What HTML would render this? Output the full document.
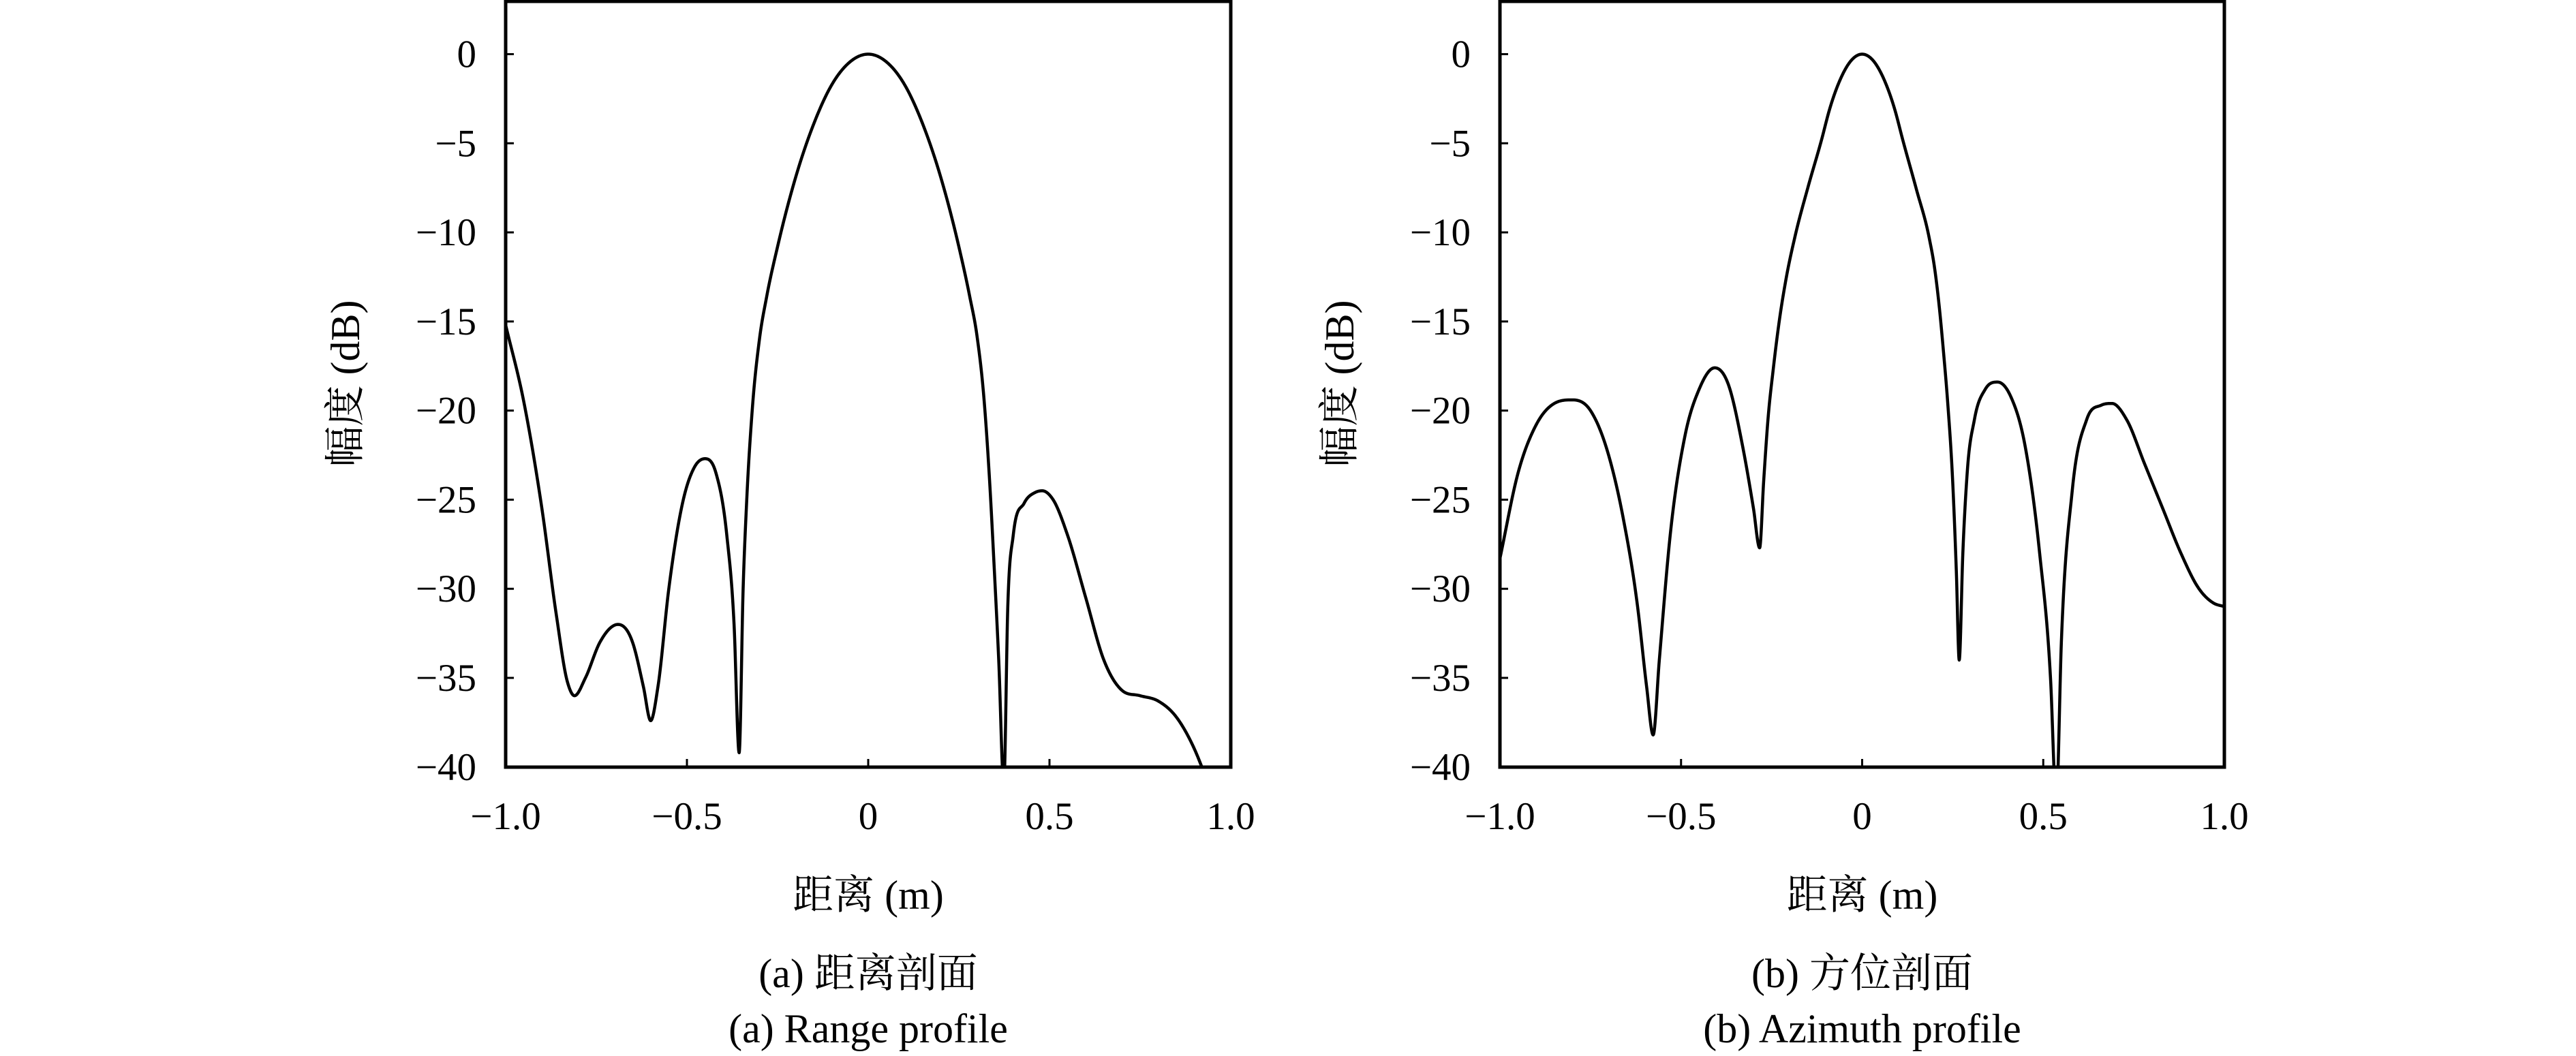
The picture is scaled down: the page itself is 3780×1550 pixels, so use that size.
<!DOCTYPE html>
<html><head><meta charset="utf-8"><style>
html,body{margin:0;padding:0;background:#fff;}
svg{display:block;}
text{font-family:"Liberation Serif","Noto Serif CJK SC","Noto Sans CJK SC",serif;fill:#000;}
</style></head><body>
<svg id="fig" width="3780" height="1550" viewBox="0 0 3780 1550" xmlns="http://www.w3.org/2000/svg">
<defs>
<clipPath id="clipA"><rect x="742" y="0" width="1064" height="1126"/></clipPath>
<clipPath id="clipB"><rect x="2201" y="0" width="1063" height="1126"/></clipPath>
</defs>
</svg>
<script>
const xTicks=[-1,-0.5,0,0.5,1];
const xTickLabels=["\u22121.0","\u22120.5","0","0.5","1.0"];
const yTicks=[0,-5,-10,-15,-20,-25,-30,-35,-40];
const yTickLabels=["0","\u22125","\u221210","\u221215","\u221220","\u221225","\u221230","\u221235","\u221240"];
const rangeX=[-1,-0.95,-0.9,-0.86,-0.83,-0.81,-0.78,-0.74,-0.69,-0.65,-0.62,-0.6,-0.58,-0.55,-0.51,-0.48,-0.45,-0.42,-0.39,-0.37,-0.356,-0.345,-0.335,-0.32,-0.3,-0.28,-0.25,-0.2,-0.15,-0.1,-0.05,0,0.05,0.1,0.15,0.2,0.25,0.28,0.3,0.32,0.335,0.348,0.36,0.374,0.385,0.4,0.43,0.46,0.48,0.51,0.55,0.6,0.65,0.7,0.75,0.8,0.85,0.9,0.93];
const rangeY=[-15.2,-19.5,-25.5,-31.5,-35.2,-36,-35,-33,-32,-33,-35.5,-37.4,-35.5,-30,-25,-23.2,-22.7,-23.5,-27,-32,-39.2,-30,-25,-20,-16,-13.6,-10.8,-6.9,-3.9,-1.7,-0.43,0,-0.43,-1.7,-3.9,-6.9,-10.8,-13.6,-15.8,-19.5,-24,-29,-34,-41,-31,-27,-25.2,-24.6,-24.5,-25,-27,-30.5,-34,-35.7,-36,-36.3,-37.2,-39,-40.5];
const aziX=[-1,-0.95,-0.9,-0.85,-0.8,-0.75,-0.7,-0.66,-0.62,-0.595,-0.577,-0.56,-0.53,-0.49,-0.45,-0.407,-0.37,-0.33,-0.3,-0.283,-0.272,-0.26,-0.245,-0.229,-0.21,-0.185,-0.15,-0.112,-0.09,-0.06,-0.03,0,0.03,0.06,0.09,0.112,0.15,0.185,0.2,0.212,0.225,0.236,0.25,0.26,0.268,0.278,0.29,0.31,0.34,0.374,0.41,0.45,0.49,0.52,0.536,0.55,0.58,0.62,0.66,0.69,0.73,0.78,0.83,0.88,0.93,0.97,1];
const aziY=[-28.3,-23.5,-20.8,-19.6,-19.4,-20,-22.5,-26,-31,-35.5,-38.2,-34,-27,-21.5,-18.8,-17.6,-18.5,-22,-25.5,-27.7,-24,-20.5,-17.6,-15,-12.6,-10.2,-7.5,-4.8,-3.1,-1.4,-0.35,0,-0.35,-1.4,-3.1,-4.8,-7.6,-10.3,-12,-14,-16.8,-19.5,-24,-29,-34,-28,-23.5,-20.5,-18.8,-18.4,-19.2,-22,-28,-35,-42,-33,-24.5,-20.5,-19.7,-19.6,-20.5,-23,-25.5,-28,-30,-30.8,-31];

const NS="http://www.w3.org/2000/svg";
const svg=document.getElementById('fig');
function mk(tag,attrs,parent){const e=document.createElementNS(NS,tag);for(const k in attrs)e.setAttribute(k,attrs[k]);(parent||svg).appendChild(e);return e;}

function smoothPoints(xs,ys){
  const n=xs.length,h=[],dl=[],m=new Array(n);
  for(let i=0;i<n-1;i++){h[i]=xs[i+1]-xs[i];dl[i]=(ys[i+1]-ys[i])/h[i];}
  m[0]=dl[0];m[n-1]=dl[n-2];
  for(let i=1;i<n-1;i++){
    if(dl[i-1]*dl[i]<=0)m[i]=0;
    else{
      let s=(dl[i-1]*h[i]+dl[i]*h[i-1])/(h[i-1]+h[i]);
      const lim=3*Math.min(Math.abs(dl[i-1]),Math.abs(dl[i]));
      if(Math.abs(s)>lim)s=Math.sign(s)*lim;
      m[i]=s;
    }
  }
  const out=[];
  for(let i=0;i<n-1;i++){
    const S=20;
    for(let k=0;k<S;k++){
      const t=k/S,t2=t*t,t3=t2*t;
      const y=(2*t3-3*t2+1)*ys[i]+(t3-2*t2+t)*h[i]*m[i]+(-2*t3+3*t2)*ys[i+1]+(t3-t2)*h[i]*m[i+1];
      out.push([xs[i]+t*h[i],y]);
    }
  }
  out.push([xs[n-1],ys[n-1]]);
  return out;
}

function panel(cfg){
  const L=cfg.left,R=cfg.right,T=0,B=1126;
  const y0=79.5,y40=1125.8;
  const sx=v=>L+(v+1)/2*(R-L);
  const sy=v=>y0+(v/-40)*(y40-y0);
  const g=mk('g',{});
  
  
  const pts=smoothPoints(cfg.xs,cfg.ys);
  const d='M'+pts.map(p=>sx(p[0]).toFixed(2)+','+sy(p[1]).toFixed(2)).join(' L');
  const path=mk('path',{d:d,fill:'none',stroke:'#000','stroke-width':4.5,'stroke-linejoin':'round','clip-path':'url(#'+cfg.clip+')'},g);
  
  
  const fr=mk('rect',{x:L,y:T+2,width:R-L,height:B-T-2,fill:'none',stroke:'#000','stroke-width':5},g);
  
  
  xTicks.forEach((v,i)=>{
    const x=sx(v);
    const t=mk('line',{x1:x,x2:x,y1:B,y2:B-12,stroke:'#000','stroke-width':3},g);
    
    
    const tl=mk('text',{x:x,y:1217,'font-size':57,'text-anchor':'middle'},g);
    tl.textContent=xTickLabels[i];
    
    
  });
  yTicks.forEach((v,i)=>{
    const y=sy(v);
    const t=mk('line',{x1:L,x2:L+12,y1:y,y2:y,stroke:'#000','stroke-width':3},g);
    
    
    const tl=mk('text',{x:L-43,y:y+19,'font-size':57,'text-anchor':'end'},g);
    tl.textContent=yTickLabels[i];
    
    
  });
  const xl=mk('text',{x:(L+R)/2,y:1334,'font-size':60,'text-anchor':'middle'},g);
  xl.textContent='距离 (m)';
  
  
  const yl=mk('text',{x:0,y:0,'font-size':60,'text-anchor':'middle',transform:'translate('+(cfg.ylx)+',563) rotate(-90)'},g);
  yl.textContent='幅度 (dB)';
  
  
  const c1=mk('text',{x:(L+R)/2,y:1449,'font-size':60,'text-anchor':'middle'},g);
  c1.textContent=cfg.cap1;
  
  
  const c2=mk('text',{x:(L+R)/2,y:1530,'font-size':60,'text-anchor':'middle'},g);
  c2.textContent=cfg.cap2;
  
  
}
panel({name:'range-profile-panel',left:742,right:1806,clip:'clipA',xs:rangeX,ys:rangeY,ylx:527,cap1:'(a) 距离剖面',cap2:'(a) Range profile'});
panel({name:'azimuth-profile-panel',left:2201,right:3264,clip:'clipB',xs:aziX,ys:aziY,ylx:1986,cap1:'(b) 方位剖面',cap2:'(b) Azimuth profile'});
</script>
</body></html>
